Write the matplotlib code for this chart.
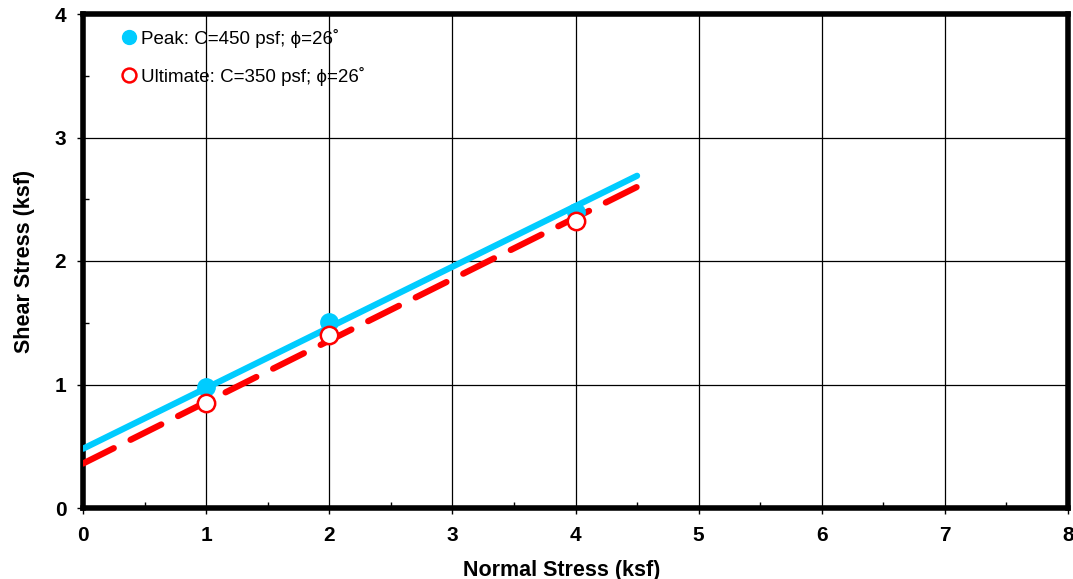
import matplotlib
matplotlib.use("Agg")
import matplotlib.pyplot as plt
from matplotlib.ticker import MultipleLocator

plt.rcParams['font.family'] = ['Liberation Sans', 'DejaVu Sans']

# test data
normal = [1, 2, 4]
peak_shear = [0.98, 1.51, 2.40]
ult_shear = [0.85, 1.40, 2.32]

# strength envelopes (end points)
env_x = [0, 4.5]
peak_env = [0.48, 2.69]
ult_env = [0.36, 2.60]

peak_label = 'Peak: C=450 psf; \u03d5=26\u02da'
ult_label = 'Ultimate: C=350 psf; \u03d5=26\u02da'

cyan = '#00CCFF'
red = '#FF0000'

fig = plt.figure(figsize=(10.73, 5.79), dpi=100)
ax = fig.add_axes([83/1073, 71/579, 985/1073, 494/579])

ax.grid(True, which='major', color='black', linewidth=0.9)
ax.set_axisbelow(True)

ax.plot(env_x, peak_env, color=cyan, linewidth=4.5, solid_capstyle='round', zorder=3)
ax.plot(env_x, ult_env, color=red, linewidth=4.5, dashes=(5.5, 3), dash_capstyle='round', zorder=3)

ax.plot(normal, peak_shear, 'o', color=cyan, markersize=12.5, label=peak_label, zorder=4)
ax.plot(normal, ult_shear, 'o', markerfacecolor='white', markeredgecolor=red,
        markeredgewidth=1.8, markersize=12.5, label=ult_label, zorder=5)

ax.set_xlim(0, 8)
ax.set_ylim(0, 4)
ax.xaxis.set_major_locator(MultipleLocator(1))
ax.yaxis.set_major_locator(MultipleLocator(1))
ax.xaxis.set_minor_locator(MultipleLocator(0.5))
ax.yaxis.set_minor_locator(MultipleLocator(0.5))
ax.tick_params(which='major', direction='out', length=4, width=1, labelsize=15)
ax.tick_params(axis='x', which='major', pad=9)
ax.tick_params(axis='y', which='major', pad=8)
ax.tick_params(which='minor', direction='in', length=4, width=1)
for lab in ax.get_xticklabels() + ax.get_yticklabels():
    lab.set_fontweight('bold')

for sp in ax.spines.values():
    sp.set_linewidth(4)

ax.set_xlabel('Normal Stress (ksf)', fontsize=15.5, fontweight='bold')
ax.xaxis.set_label_coords(0.486, -0.105)
ax.set_ylabel('Shear Stress (ksf)', fontsize=15.5, fontweight='bold', labelpad=14)

leg = ax.legend(loc='upper left', bbox_to_anchor=(0.02, 1.004), frameon=False, fontsize=13.5,
                handlelength=1.0, handletextpad=0.15, labelspacing=1.0, markerscale=0.8)

fig.savefig('out.png', dpi=100)
